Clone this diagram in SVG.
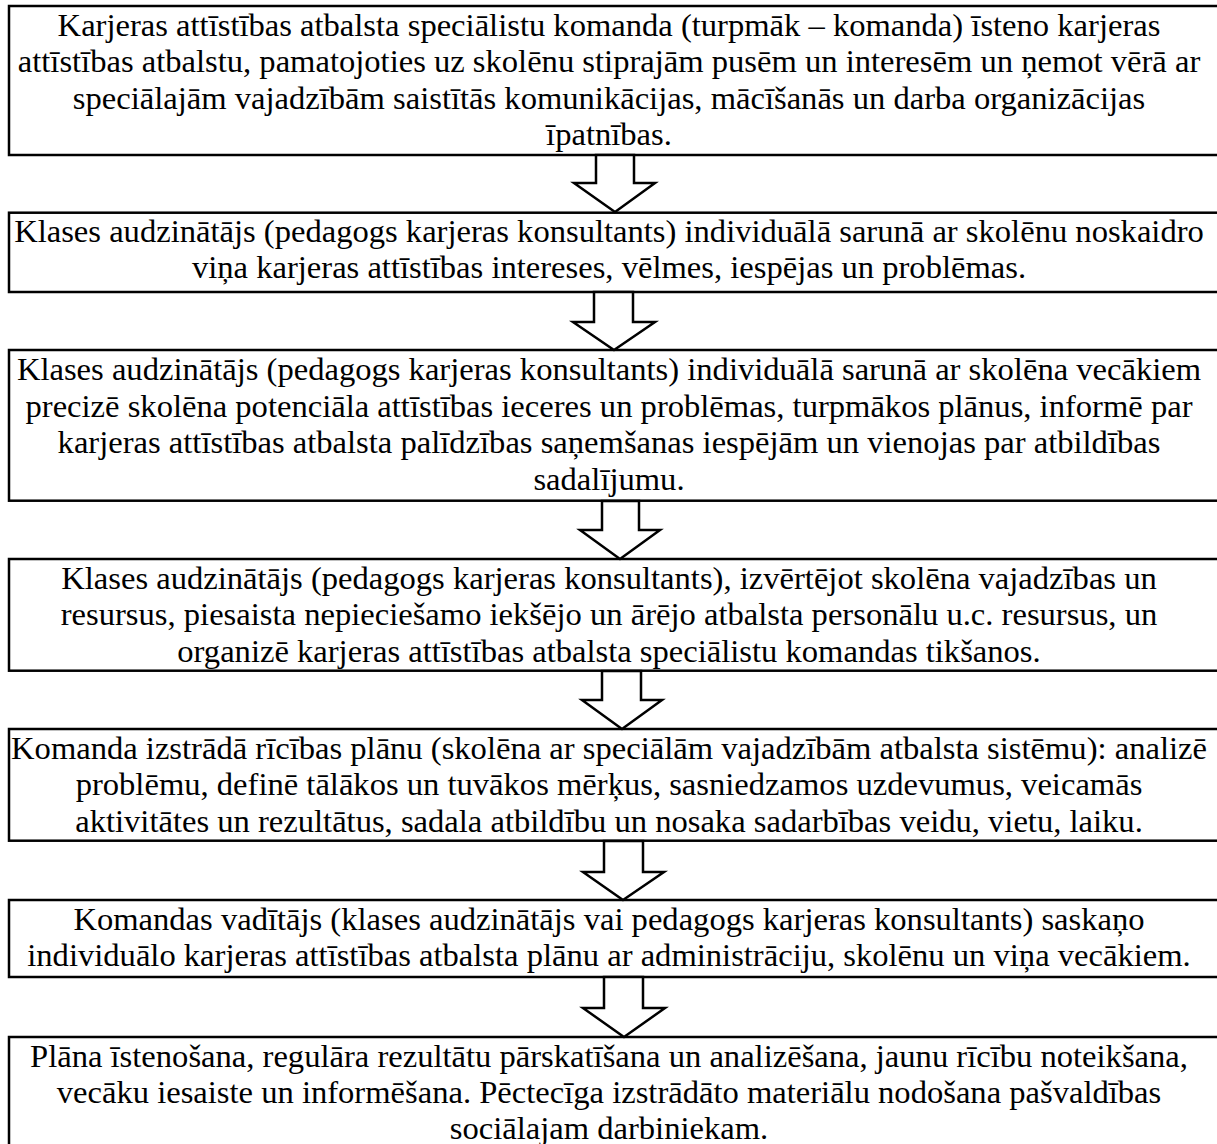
<svg xmlns="http://www.w3.org/2000/svg" width="1217" height="1144" viewBox="0 0 1217 1144">
<style>
.box{fill:#fff;stroke:#000;stroke-width:2.5}
.arr{fill:#fff;stroke:#000;stroke-width:2.5;stroke-linejoin:miter}
text{font-family:"Liberation Serif","Times New Roman",serif;font-size:32.6px;fill:#000;text-anchor:middle}
</style>
<rect width="1217" height="1144" fill="#fff"/>
<g id="node1">
<rect class="box" x="9" y="6" width="1225" height="149"/>
<text x="609" y="35.7">Karjeras attīstības atbalsta speciālistu komanda (turpmāk – komanda) īsteno karjeras</text>
<text x="609" y="72.4">attīstības atbalstu, pamatojoties uz skolēnu stiprajām pusēm un interesēm un ņemot vērā ar</text>
<text x="609" y="108.9">speciālajām vajadzībām saistītās komunikācijas, mācīšanās un darba organizācijas</text>
<text x="609" y="145.4">īpatnības.</text>
</g>
<g id="node2">
<rect class="box" x="9" y="212.7" width="1225" height="79.3"/>
<text x="609" y="241.5">Klases audzinātājs (pedagogs karjeras konsultants) individuālā sarunā ar skolēnu noskaidro</text>
<text x="609" y="278">viņa karjeras attīstības intereses, vēlmes, iespējas un problēmas.</text>
</g>
<g id="node3">
<rect class="box" x="9" y="350" width="1225" height="150.7"/>
<text x="609" y="380">Klases audzinātājs (pedagogs karjeras konsultants) individuālā sarunā ar skolēna vecākiem</text>
<text x="609" y="416.5">precizē skolēna potenciāla attīstības ieceres un problēmas, turpmākos plānus, informē par</text>
<text x="609" y="453">karjeras attīstības atbalsta palīdzības saņemšanas iespējām un vienojas par atbildības</text>
<text x="609" y="489.5">sadalījumu.</text>
</g>
<g id="node4">
<rect class="box" x="9" y="559" width="1225" height="111.7"/>
<text x="609" y="588.5">Klases audzinātājs (pedagogs karjeras konsultants), izvērtējot skolēna vajadzības un</text>
<text x="609" y="625">resursus, piesaista nepieciešamo iekšējo un ārējo atbalsta personālu u.c. resursus, un</text>
<text x="609" y="661.5">organizē karjeras attīstības atbalsta speciālistu komandas tikšanos.</text>
</g>
<g id="node5">
<rect class="box" x="9" y="729" width="1225" height="111.7"/>
<text x="609" y="758.5">Komanda izstrādā rīcības plānu (skolēna ar speciālām vajadzībām atbalsta sistēmu): analizē</text>
<text x="609" y="795">problēmu, definē tālākos un tuvākos mērķus, sasniedzamos uzdevumus, veicamās</text>
<text x="609" y="831.5">aktivitātes un rezultātus, sadala atbildību un nosaka sadarbības veidu, vietu, laiku.</text>
</g>
<g id="node6">
<rect class="box" x="9" y="900" width="1225" height="77"/>
<text x="609" y="929.5">Komandas vadītājs (klases audzinātājs vai pedagogs karjeras konsultants) saskaņo</text>
<text x="609" y="966">individuālo karjeras attīstības atbalsta plānu ar administrāciju, skolēnu un viņa vecākiem.</text>
</g>
<g id="node7">
<rect class="box" x="9" y="1037" width="1225" height="130"/>
<text x="609" y="1066.5">Plāna īstenošana, regulāra rezultātu pārskatīšana un analizēšana, jaunu rīcību noteikšana,</text>
<text x="609" y="1103">vecāku iesaiste un informēšana. Pēctecīga izstrādāto materiālu nodošana pašvaldības</text>
<text x="609" y="1138.5">sociālajam darbiniekam.</text>
</g>
<g id="connectors">
<path class="arr" d="M596,155 L634,155 L634,183 L655,183 L615,212 L574,183 L596,183 Z"/>
<path class="arr" d="M594,292 L633,292 L633,322 L655,322 L614,350 L573,322 L594,322 Z"/>
<path class="arr" d="M602,501 L639,501 L639,530 L660,530 L620,559 L580,530 L602,530 Z"/>
<path class="arr" d="M602,671 L641,671 L641,700 L662,700 L622,729 L582,700 L602,700 Z"/>
<path class="arr" d="M604,841 L643,841 L643,872 L664,872 L623,900 L583,872 L604,872 Z"/>
<path class="arr" d="M604,977 L643,977 L643,1008 L665,1008 L624,1037 L583,1008 L604,1008 Z"/>
</g>
</svg>
